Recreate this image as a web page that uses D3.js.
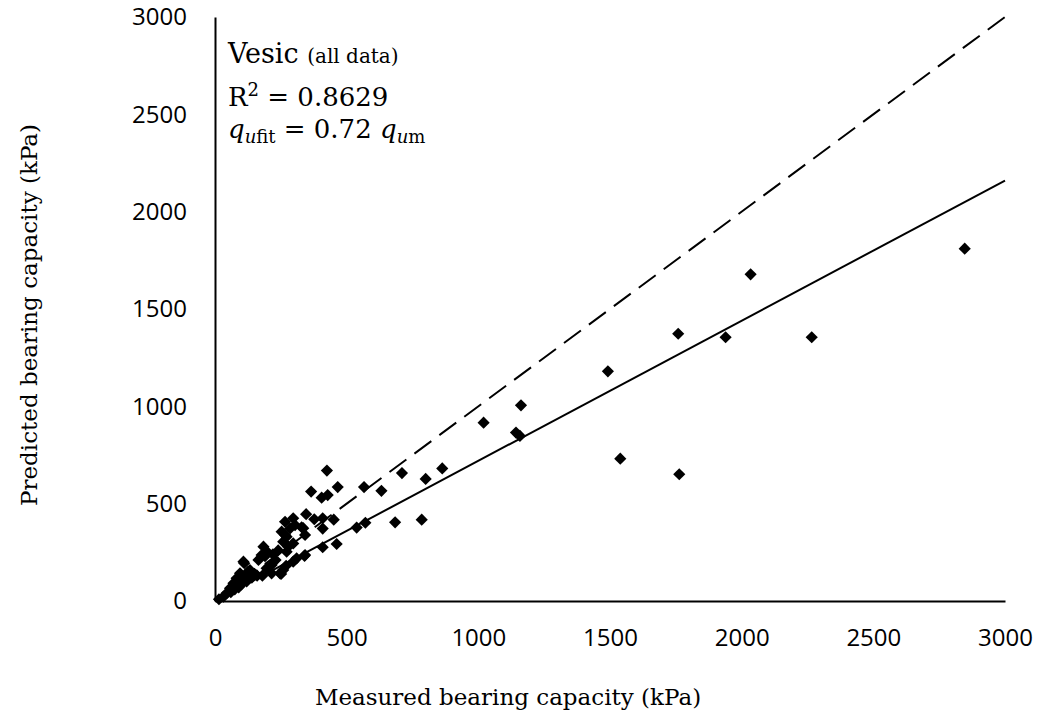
<!DOCTYPE html>
<html>
<head>
<meta charset="utf-8">
<script src="https://cdn.jsdelivr.net/npm/d3@7"></script>
<style>
  body { margin: 0; background: #fff; }
  .tick text { font-family: "Open Sans", sans-serif; font-size: 24px; fill: #000; }
  .title { font-family: "DejaVu Serif", serif; font-size: 23px; fill: #000; }
  .note { font-family: "DejaVu Serif", serif; fill: #000; }
</style>
</head>
<body>
<div class="container"></div>
<script>
// measured (kPa) vs predicted (kPa), Vesic method
const measured = [
  15, 32, 44, 57, 70, 82, 95, 108, 111, 133, 120, 140, 150, 160, 100, 90, 75, 60, 85, 105,
  165, 177, 184, 196, 215, 215, 200, 230, 190, 247, 251, 259, 253, 259, 266, 266, 272, 272, 278, 270,
  285, 297, 297, 304, 310, 297, 329, 335, 340, 342, 342, 346, 365, 377, 405, 409, 409, 409, 425, 428,
  451, 462, 466, 538, 566, 571, 632, 684, 710, 785, 800, 863, 1020, 1143, 1158, 1162, 1492, 1539, 1759, 1763,
  1939, 2034, 2266, 2847, 125, 180, 240, 220
];
const predicted = [
  9, 22, 40, 65, 91, 117, 142, 202, 194, 159, 100, 120, 140, 130, 85, 70, 60, 45, 100, 120,
  211, 236, 279, 168, 185, 142, 250, 210, 230, 142, 139, 159, 356, 305, 407, 339, 330, 253, 279, 181,
  373, 425, 296, 390, 219, 202, 379, 374, 232, 339, 236, 446, 562, 420, 531, 425, 372, 276, 670, 544,
  418, 293, 585, 377, 585, 402, 566, 404, 657, 418, 627, 681, 916, 865, 848, 1005, 1180, 731, 1373, 651,
  1355, 1678, 1355, 1810, 150, 130, 260, 240
];

const xTicks = [0, 500, 1000, 1500, 2000, 2500, 3000];
const yTicks = [0, 500, 1000, 1500, 2000, 2500, 3000];
const fitSlope = 0.72;

const xTitle = 'Measured bearing capacity (kPa)';
const yTitle = 'Predicted bearing capacity (kPa)';

const width = 1041;
const height = 719;

const svg = d3
  .select('.container')
  .append('svg')
  .attr('width', width)
  .attr('height', height);

const x = d3.scaleLinear().domain([0, 3000]).range([215, 1005]);
const y = d3.scaleLinear().domain([0, 3000]).range([601, 17]);

// axes
const xAxis = svg
  .append('g')
  .attr('transform', `translate(0, ${y(0)})`)
  .call(
    d3.axisBottom(x).tickValues(xTicks).tickFormat(d3.format('d')).tickSize(0).tickSizeOuter(0).tickPadding(28)
  );
xAxis.select('.domain').attr('stroke', '#000').attr('stroke-width', 2);

const yAxis = svg
  .append('g')
  .attr('transform', `translate(${x(0)}, 0)`)
  .call(
    d3.axisLeft(y).tickValues(yTicks).tickFormat(d3.format('d')).tickSize(0).tickSizeOuter(0).tickPadding(28)
  );
yAxis.select('.domain').attr('stroke', '#000').attr('stroke-width', 2);

// 1:1 line
svg
  .append('line')
  .attr('x1', x(0))
  .attr('y1', y(0))
  .attr('x2', x(3000))
  .attr('y2', y(3000))
  .attr('stroke', '#000')
  .attr('stroke-width', 2)
  .attr('stroke-dasharray', '21,10');

// fitted line
svg
  .append('line')
  .attr('x1', x(0))
  .attr('y1', y(0))
  .attr('x2', x(3000))
  .attr('y2', y(3000 * fitSlope))
  .attr('stroke', '#000')
  .attr('stroke-width', 2);

// points
const diamond = d3.symbol().type(d3.symbolSquare).size(74);
svg
  .append('g')
  .selectAll('path')
  .data(d3.range(measured.length))
  .join('path')
  .attr('d', diamond)
  .attr('transform', (i) => `translate(${x(measured[i])}, ${y(predicted[i])}) rotate(45)`)
  .attr('fill', '#000');

// axis titles
svg
  .append('text')
  .attr('class', 'title')
  .attr('x', 508)
  .attr('y', 705)
  .attr('text-anchor', 'middle')
  .text(xTitle);

svg
  .append('text')
  .attr('class', 'title')
  .attr('transform', 'translate(37, 315) rotate(-90)')
  .attr('text-anchor', 'middle')
  .text(yTitle);

// annotation
const note1 = svg.append('text').attr('class', 'note').attr('x', 228).attr('y', 63);
note1.append('tspan').attr('font-size', 27).text('Vesic ');
note1.append('tspan').attr('font-size', 20).text('(all data)');

const note2 = svg.append('text').attr('class', 'note').attr('x', 228).attr('y', 106).attr('font-size', 26);
note2.append('tspan').text('R');
note2.append('tspan').attr('font-size', 18).attr('dy', -10).text('2');
note2.append('tspan').attr('dy', 10).text(' = 0.8629');

const note3 = svg.append('text').attr('class', 'note').attr('x', 228).attr('y', 138).attr('font-size', 26);
note3.append('tspan').attr('font-style', 'italic').text('q');
note3.append('tspan').attr('font-size', 18).attr('font-style', 'italic').attr('dy', 5).text('u');
note3.append('tspan').attr('font-size', 18).text('fit');
note3.append('tspan').attr('dy', -5).text(' = 0.72 ');
note3.append('tspan').attr('font-style', 'italic').text('q');
note3.append('tspan').attr('font-size', 18).attr('font-style', 'italic').attr('dy', 5).text('u');
note3.append('tspan').attr('font-size', 18).text('m');
</script>
</body>
</html>
